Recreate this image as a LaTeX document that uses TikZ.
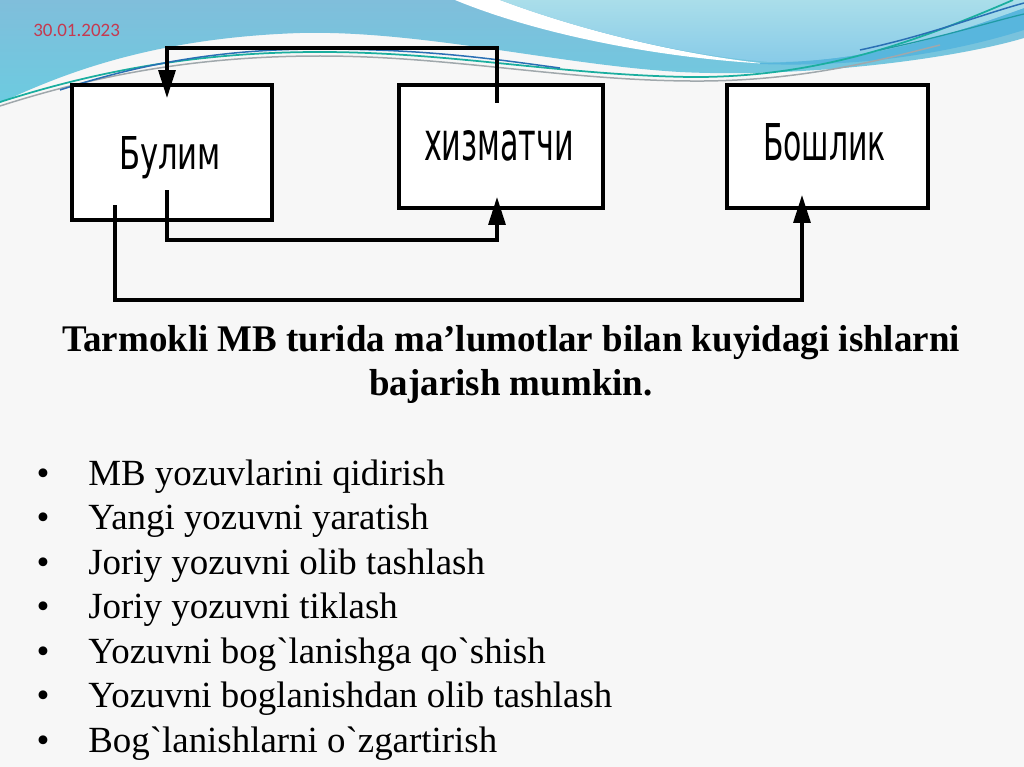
\documentclass[tikz,border=0pt]{standalone}
\usepackage{fontspec}
\usepackage{graphicx}
\usetikzlibrary{arrows.meta}
\newfontfamily\serifbody{Liberation Serif}
\newfontfamily\boxfont{DejaVu Sans}
\newfontfamily\datefont{Carlito}
\definecolor{bgpage}{HTML}{F7F7F7}
\definecolor{blueTop}{HTML}{80BEDB}
\definecolor{blueBot}{HTML}{6CCBE0}
\definecolor{lightTop}{HTML}{AADEEA}
\definecolor{lightBot}{HTML}{88CBE8}
\definecolor{darkBand}{HTML}{58B6DD}
\definecolor{tealLine}{HTML}{1AAE9F}
\definecolor{blueLine}{HTML}{2A6FB4}
\definecolor{grayLine}{HTML}{A0A8AC}
\definecolor{dateRed}{HTML}{C53A50}
\newlength\hlw
\newcommand\headline{Tarmokli MB turida ma’lumotlar bilan kuyidagi ishlarni}
\begin{document}
\settowidth\hlw{\serifbody\bfseries\fontsize{21.4}{24.4}\selectfont\headline}%
\pgfmathsetmacro\hfac{17.96cm/\hlw}%
\begin{tikzpicture}[x=0.02cm,y=-0.02cm,
  box/.style={draw=black,fill=white,line width=0.075cm,inner sep=0pt,minimum width=#1},
  lbl/.style={font=\boxfont,inner sep=0pt,anchor=base},
  conn/.style={draw=black,line width=0.065cm},
  arr/.style={-{Triangle[length=0.56cm,width=0.34cm]}},
  item/.style={font=\serifbody\fontsize{21}{25}\selectfont,inner sep=0pt},
  head/.style={font=\serifbody\bfseries\fontsize{21.4}{24.4}\selectfont,inner sep=0pt,anchor=base}]
\useasboundingbox (0,0) rectangle (1024,767);
% page background
\fill[bgpage] (0,0) rectangle (1024,767);
% main blue swoosh
\shade[top color=blueTop,bottom color=blueBot]
  (0,0) -- (0,103) .. controls (60,75) and (150,38) .. (300,33)
  .. controls (420,30) and (560,65) .. (680,72)
  .. controls (800,78) and (950,60) .. (1024,38) -- (1024,0) -- cycle;
% white band
\fill[white] (455,0) .. controls (540,35) and (660,58) .. (770,64)
  .. controls (680,55) and (580,30) .. (500,0) -- cycle;
% darker band at right
\fill[darkBand] (760,63) .. controls (880,62) and (970,27) .. (1024,8)
  -- (1024,30) .. controls (960,50) and (870,68) .. (760,64) -- cycle;
% light blue region
\shade[top color=lightTop,bottom color=lightBot]
  (500,0) .. controls (580,30) and (680,55) .. (770,62)
  .. controls (880,62) and (970,27) .. (1024,8) -- (1024,0) -- cycle;
% thin decorative lines
\draw[grayLine,line width=0.03cm] (0,106) .. controls (100,74) and (200,56) .. (320,56)
  .. controls (450,56) and (560,80) .. (690,81) .. controls (800,82) and (880,60) .. (940,45);
\draw[tealLine,line width=0.035cm] (0,102) .. controls (100,70) and (200,52) .. (320,52)
  .. controls (450,52) and (560,75) .. (690,77) .. controls (820,78) and (920,40) .. (1013,0);
\draw[blueLine,line width=0.03cm] (60,90) .. controls (140,64) and (220,49) .. (320,49)
  .. controls (430,49) and (500,60) .. (560,68);
\draw[blueLine,line width=0.03cm] (860,50) .. controls (930,35) and (980,15) .. (1024,3);
\draw[tealLine!70!blueLine,line width=0.025cm] (880,50) .. controls (950,35) and (990,22) .. (1024,14);
% date
\node[font=\datefont\fontsize{10.8}{12}\selectfont,text=dateRed,inner sep=0pt,anchor=base west] (date) at (33,37) {30.01.2023};
% boxes
\node[box=4cm,minimum height=2.7cm] (b1) at (172,152.5) {};
\node[box=4.08cm,minimum height=2.46cm] (b2) at (501,146.5) {};
\node[box=4.02cm,minimum height=2.46cm] (b3) at (827.5,146.5) {};
\node[lbl] (t1) at (170,170) {\resizebox{2.04cm}{0.66cm}{Булим}};
\node[lbl] (t2) at (499,160) {\resizebox{3.0cm}{0.6cm}{хизматчи}};
\node[lbl] (t3) at (824.5,160) {\resizebox{2.46cm}{0.74cm}{Бошлик}};
% connector anchor points
\coordinate (s1) at (497,103);
\coordinate (e1) at (167,98);
\coordinate (s2) at (167,190);
\coordinate (e2) at (497,197);
\coordinate (s3) at (115,205);
\coordinate (e3) at (802,195);
\draw[conn,arr] (s1) -- (497,48) -| (e1);
\draw[conn,arr] (s2) -- (167,240) -| (e2);
\draw[conn,arr] (s3) -- (115,300) -| (e3);
% heading
\node[head] (h1) at (511,351) {\scalebox{\hfac}[1]{\headline}};
\node[head] (h2) at (511,395) {\scalebox{\hfac}[1]{bajarish mumkin.}};
% bullet list
\foreach \t [count=\i from 0] in {MB yozuvlarini qidirish,Yangi yozuvni yaratish,Joriy yozuvni olib tashlash,Joriy yozuvni tiklash,Yozuvni bog`lanishga qo`shish,Yozuvni boglanishdan olib tashlash,Bog`lanishlarni o`zgartirish}{
  \pgfmathsetmacro\yy{485+44.5*\i}
  \node[item,anchor=base] (bul\i) at (43,\yy) {•};
  \node[item,anchor=base west] (it\i) at (88,\yy) {\t};
}
\end{tikzpicture}
\end{document}
